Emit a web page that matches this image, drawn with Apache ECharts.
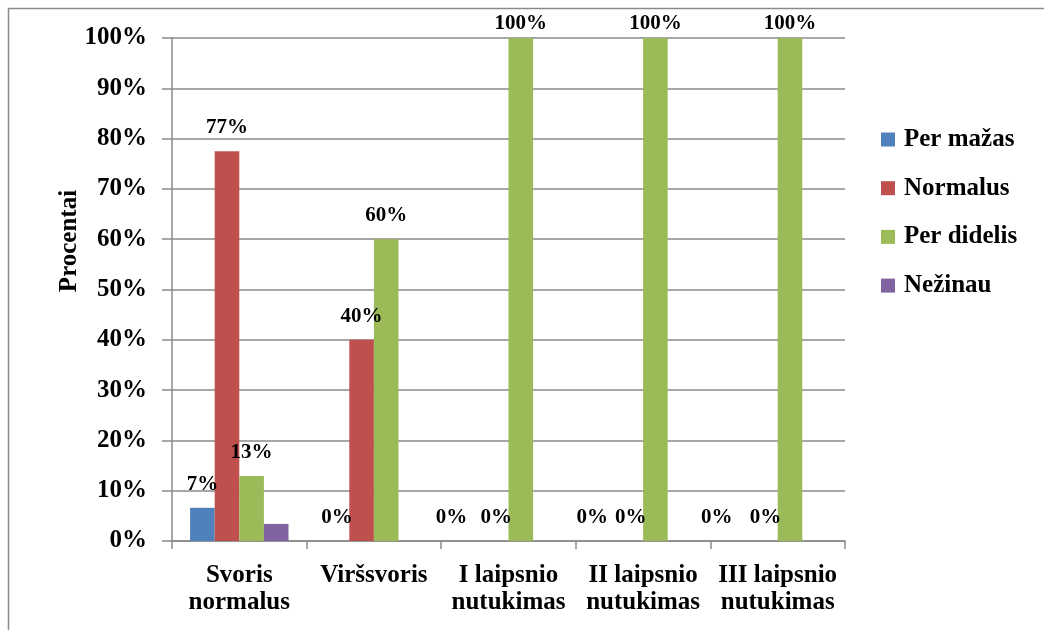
<!DOCTYPE html>
<html><head><meta charset="utf-8">
<script src="https://cdn.jsdelivr.net/npm/echarts@6/dist/echarts.min.js"></script>
<style>html,body{margin:0;padding:0;background:#fff}#c{width:1044px;height:630px}</style>
</head><body><div id="c"></div>
<script>
const categories = ['Svoris\nnormalus', 'Viršsvoris', 'I laipsnio\nnutukimas', 'II laipsnio\nnutukimas', 'III laipsnio\nnutukimas'];
const seriesNames = ['Per mažas', 'Normalus', 'Per didelis', 'Nežinau'];
const perMazas = [6.6, 0, 0, 0, 0];
const normalus = [77.5, 40, 0, 0, 0];
const perDidelis = [12.9, 60, 100, 100, 100];
const nezinau = [3.4, null, null, null, null];
const valueLabels = {
  perMazas: ['7%', '0%', '0%', '0%', '0%'],
  normalus: ['77%', '40%', '0%', '0%', '0%'],
  perDidelis: ['13%', '60%', '100%', '100%', '100%']
};
const yTicks = [0, 10, 20, 30, 40, 50, 60, 70, 80, 90, 100];

const FONT = 'Liberation Serif, Times New Roman, serif';
const colors = ['#4F81BD', '#C0504D', '#9BBB59', '#8064A2'];
const blueOffsets = [[0,0],[0,0],[-20,0],[-14,0],[-24,0]];

function mk(values, labels, offsets) {
  return values.map((v, i) => {
    const o = { value: v };
    if (labels) {
      const lab = { show: true, formatter: labels[i] };
      if (v >= 100) lab.distance = 4;
      if (offsets) lab.offset = offsets[i];
      o.label = lab;
    }
    return o;
  });
}
const labelStyle = { position: 'top', distance: 13, fontFamily: FONT, fontWeight: 'bold', fontSize: 21, lineHeight: 21, color: '#000' };

const chart = echarts.init(document.getElementById('c'), null, { renderer: 'canvas' });
chart.setOption({
  animation: false,
  backgroundColor: '#fff',
  color: colors,
  graphic: [
    { type: 'rect', shape: { x: 8.5, y: 8.5, width: 1100, height: 700 }, style: { fill: 'none', stroke: '#8a8a8a', lineWidth: 1.5 }, silent: true },
    { type: 'text', x: 70, y: 241, rotation: Math.PI / 2, style: { text: 'Procentai', font: 'bold 25px ' + FONT, fill: '#000', align: 'center', verticalAlign: 'middle' } }
  ],
  grid: { left: 172, right: 199, top: 38, bottom: 89, containLabel: false },
  legend: {
    orient: 'vertical', left: 881, top: 127, padding: 0, itemWidth: 14, itemHeight: 14, itemGap: 23.7,
    icon: 'rect', data: seriesNames,
    textStyle: { fontFamily: FONT, fontWeight: 'bold', fontSize: 25, lineHeight: 25, color: '#000', padding: [0, 0, 0, 4] }
  },
  xAxis: {
    type: 'category', data: categories,
    axisLine: { lineStyle: { color: '#8a8a8a', width: 1.5 } },
    axisTick: { show: true, length: 8, alignWithLabel: false, lineStyle: { color: '#8a8a8a', width: 1.5 } },
    axisLabel: { interval: 0, margin: 21, fontFamily: FONT, fontWeight: 'bold', fontSize: 25, lineHeight: 27, color: '#000' }
  },
  yAxis: {
    type: 'value', min: 0, max: 100, interval: 10,
    axisLine: { show: true, lineStyle: { color: '#8a8a8a', width: 1.5 } },
    axisTick: { show: true, length: 10, lineStyle: { color: '#8a8a8a', width: 1.5 } },
    splitLine: { lineStyle: { color: '#8a8a8a', width: 1.5 } },
    axisLabel: { margin: 25, fontFamily: FONT, fontWeight: 'bold', fontSize: 25, color: '#000', formatter: v => yTicks.includes(v) ? v + '%' : '' }
  },
  series: [
    { name: seriesNames[0], type: 'bar', barWidth: 24.6, barGap: '0%', data: mk(perMazas, valueLabels.perMazas, blueOffsets), label: labelStyle },
    { name: seriesNames[1], type: 'bar', barWidth: 24.6, barGap: '0%', data: mk(normalus, valueLabels.normalus), label: labelStyle },
    { name: seriesNames[2], type: 'bar', barWidth: 24.6, barGap: '0%', data: mk(perDidelis, valueLabels.perDidelis), label: labelStyle },
    { name: seriesNames[3], type: 'bar', barWidth: 24.6, barGap: '0%', data: mk(nezinau, null), label: { show: false } }
  ]
});
</script></body></html>
